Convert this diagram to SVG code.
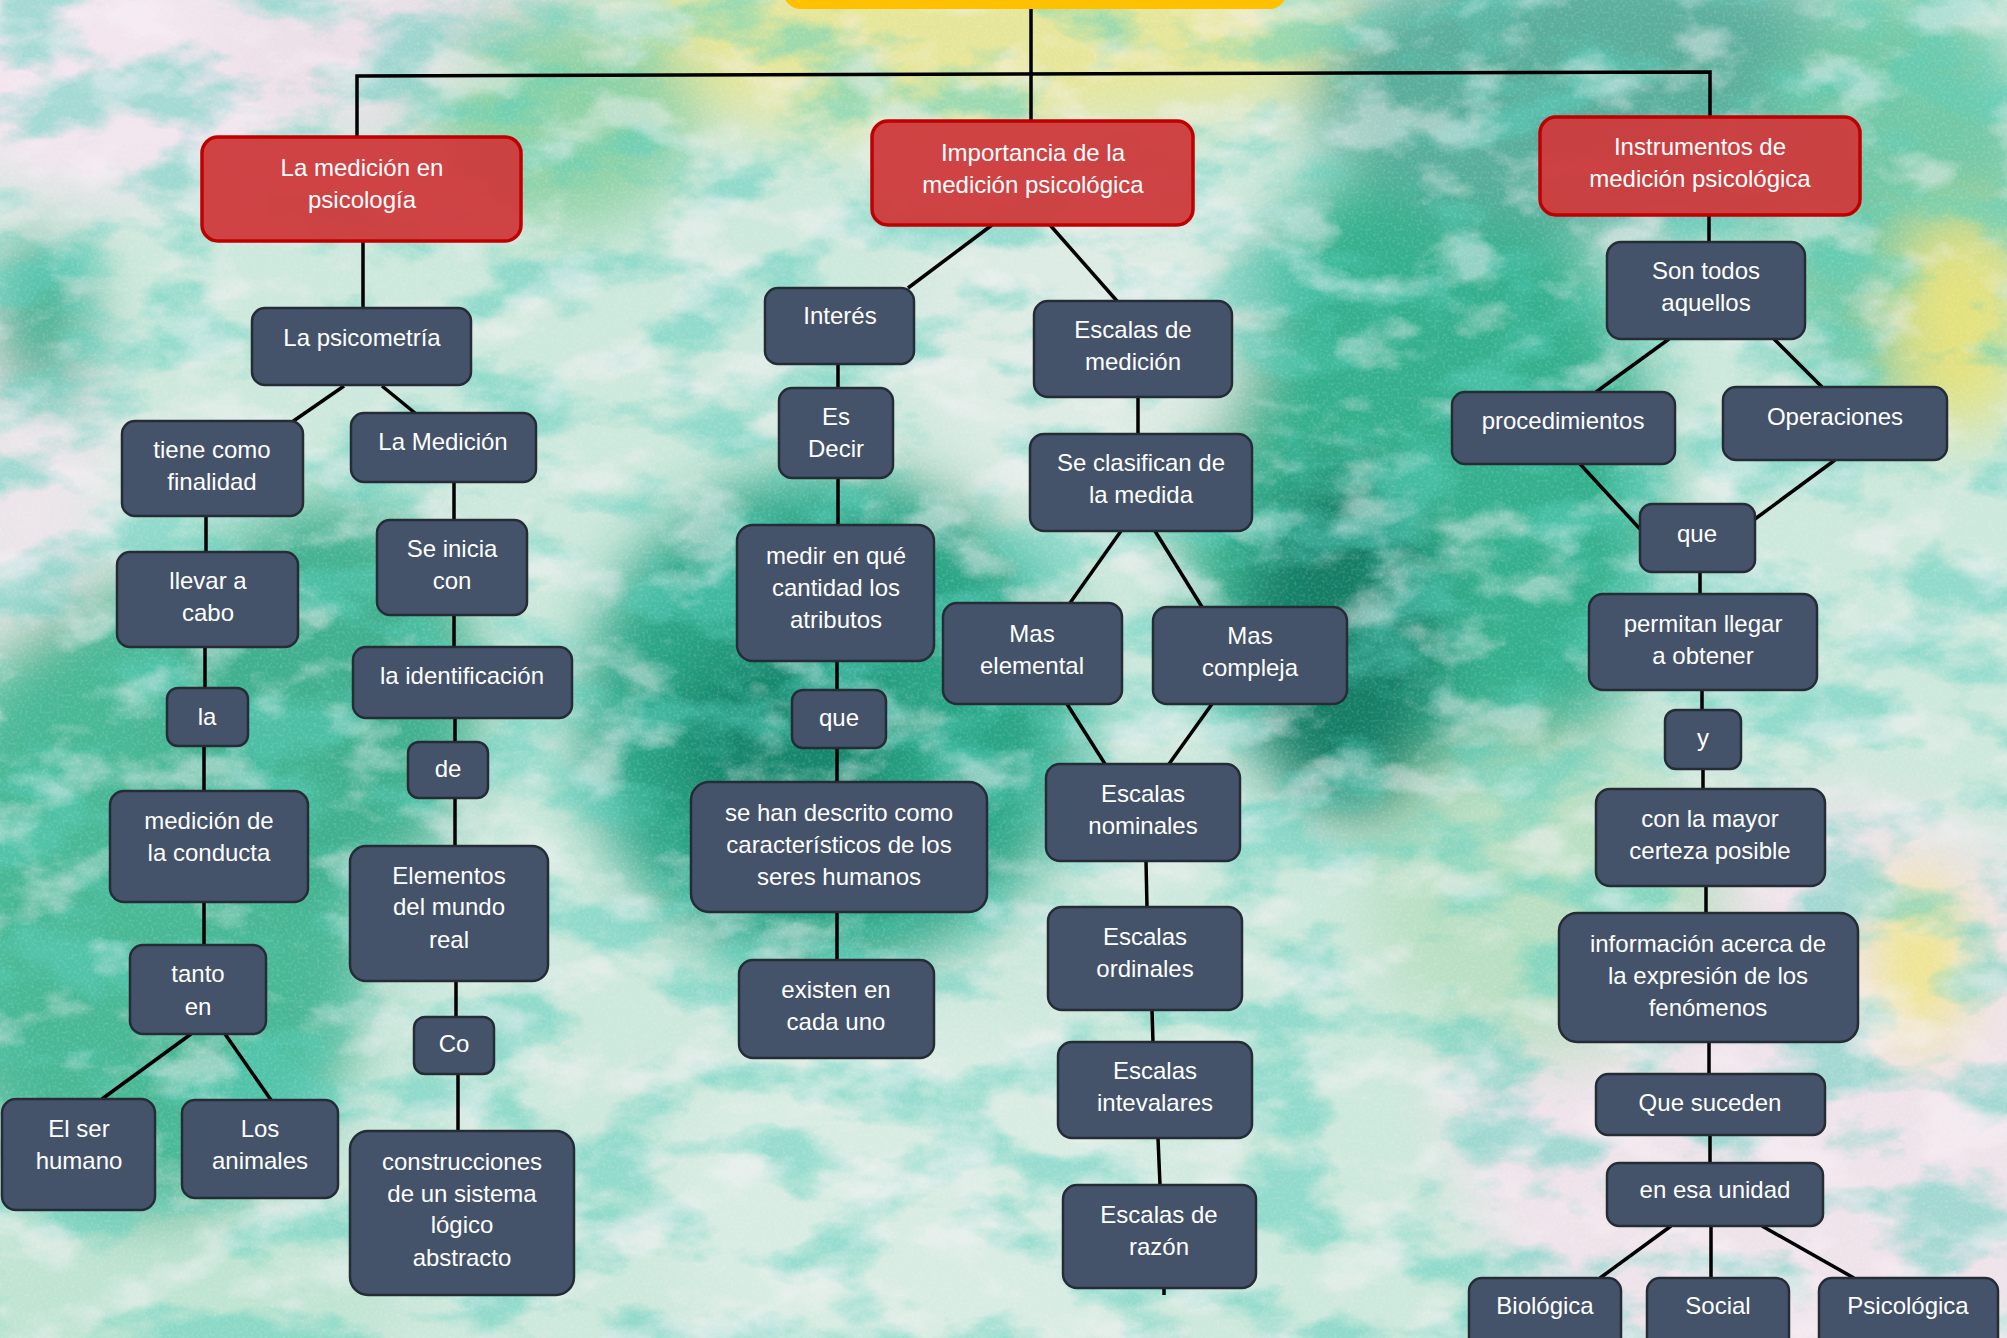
<svg xmlns="http://www.w3.org/2000/svg" width="2007" height="1338" viewBox="0 0 2007 1338">
<defs>
<style>
.n rect{fill:#44536a;stroke:#262c36;stroke-width:2.5}
.r rect{fill:#cf3a3c;fill-opacity:0.95;stroke:#c00000;stroke-width:3.5}
.n text,.r text{font-family:"Liberation Sans",Arial,sans-serif;font-size:24px;fill:#ffffff;text-anchor:middle}
#connectors path{stroke:#000;stroke-width:3.5;fill:none;stroke-linecap:butt}
</style>
<filter id="soft" x="-20%" y="-20%" width="140%" height="140%"><feGaussianBlur stdDeviation="30"/></filter>
<filter id="mottle" x="0" y="0" width="100%" height="100%">
<feTurbulence type="fractalNoise" baseFrequency="0.009 0.016" numOctaves="5" seed="11" result="n"/>
<feColorMatrix in="n" type="matrix" values="0 0 0 0 0.1  0 0 0 0 0.62  0 0 0 0 0.5  4.5 0 0 0 -2.1"/>
</filter>
<filter id="light" x="0" y="0" width="100%" height="100%">
<feTurbulence type="fractalNoise" baseFrequency="0.012 0.02" numOctaves="4" seed="23" result="n"/>
<feColorMatrix in="n" type="matrix" values="0 0 0 0 0.95  0 0 0 0 0.9  0 0 0 0 0.93  0 4 0 0 -2.0"/>
</filter>
<filter id="grain" x="0" y="0" width="100%" height="100%">
<feTurbulence type="fractalNoise" baseFrequency="0.35" numOctaves="2" seed="3" result="g"/>
<feColorMatrix in="g" type="matrix" values="0 0 0 0 1  0 0 0 0 1  0 0 0 0 1  0 0 0 1.6 -0.75"/>
</filter>
</defs>

<g id="background">
<rect x="0" y="0" width="2007" height="1338" fill="#cde8dc"/>
<g filter="url(#soft)">
<ellipse cx="110" cy="70" rx="220" ry="130" fill="#f2e5ee"/>
<ellipse cx="420" cy="50" rx="200" ry="80" fill="#ecdfe8"/>
<ellipse cx="30" cy="450" rx="80" ry="200" fill="#ece5ea"/>
<ellipse cx="960" cy="40" rx="400" ry="90" fill="#e6e69a"/>
<ellipse cx="560" cy="120" rx="140" ry="110" fill="#8fd2a6"/>
<ellipse cx="40" cy="320" rx="50" ry="90" fill="#3bb092"/>
<ellipse cx="150" cy="900" rx="230" ry="320" fill="#4ab895"/>
<ellipse cx="330" cy="700" rx="150" ry="200" fill="#3fb08e"/>
<ellipse cx="830" cy="720" rx="250" ry="250" fill="#2aa586"/>
<ellipse cx="780" cy="740" rx="110" ry="100" fill="#15866c"/>
<ellipse cx="1420" cy="500" rx="240" ry="340" fill="#34b08e"/>
<ellipse cx="1340" cy="640" rx="100" ry="170" fill="#177e66"/>
<ellipse cx="1600" cy="90" rx="290" ry="140" fill="#5aae9b"/>
<ellipse cx="1900" cy="200" rx="140" ry="220" fill="#72c8a6"/>
<ellipse cx="1960" cy="320" rx="70" ry="110" fill="#e4e27e"/>
<ellipse cx="1800" cy="1100" rx="350" ry="300" fill="#efe3ea"/>
<ellipse cx="1920" cy="960" rx="50" ry="90" fill="#eee58a"/>
<ellipse cx="920" cy="1200" rx="260" ry="180" fill="#d8ece3"/>
<ellipse cx="150" cy="1300" rx="260" ry="80" fill="#bfe4d2"/>
<ellipse cx="1080" cy="330" rx="170" ry="180" fill="#dcebe4"/>
<ellipse cx="1550" cy="900" rx="180" ry="160" fill="#b9dfc3"/>
</g>
<rect x="0" y="0" width="2007" height="1338" filter="url(#mottle)" opacity="0.5"/>
<rect x="0" y="0" width="2007" height="1338" filter="url(#light)" opacity="0.45"/>
<rect x="0" y="0" width="2007" height="1338" filter="url(#grain)" opacity="0.25"/>
</g>

<g id="connectors">
<path d="M1031,9 V121"/>
<path d="M357,137 V76 L1710,72 V117"/>
<path d="M363,241 V308"/>
<path d="M344,386 L292,422"/>
<path d="M382,386 L415,413"/>
<path d="M206,516 V552"/>
<path d="M205,647 V688"/>
<path d="M204,746 V791"/>
<path d="M204,902 V945"/>
<path d="M191,1034 L102,1099"/>
<path d="M225,1034 L271,1100"/>
<path d="M454,482 V520"/>
<path d="M454,615 V647"/>
<path d="M455,718 V742"/>
<path d="M455,798 V846"/>
<path d="M456,981 V1017"/>
<path d="M458,1074 V1131"/>
<path d="M992,225 L908,288"/>
<path d="M1050,225 L1117,301"/>
<path d="M838,364 V388"/>
<path d="M838,478 V525"/>
<path d="M837,661 V690"/>
<path d="M837,748 V782"/>
<path d="M837,912 V960"/>
<path d="M1138,397 V434"/>
<path d="M1121,531 L1070,603"/>
<path d="M1155,531 L1202,607"/>
<path d="M1067,704 L1105,764"/>
<path d="M1212,704 L1169,764"/>
<path d="M1146,861 L1147,907"/>
<path d="M1152,1010 L1153,1042"/>
<path d="M1158,1138 L1160,1185"/>
<path d="M1164,1288 V1295"/>
<path d="M1709,215 V242"/>
<path d="M1669,339 L1596,392"/>
<path d="M1774,339 L1822,387"/>
<path d="M1580,464 L1640,529"/>
<path d="M1835,460 L1755,519"/>
<path d="M1700,572 V594"/>
<path d="M1702,690 V710"/>
<path d="M1703,769 V789"/>
<path d="M1706,886 V913"/>
<path d="M1709,1042 V1074"/>
<path d="M1710,1135 V1163"/>
<path d="M1671,1226 L1600,1278"/>
<path d="M1711,1226 V1278"/>
<path d="M1762,1226 L1854,1278"/>
</g>

<g id="top"><rect x="783" y="-60" width="504" height="69" rx="18" fill="#ffc000"/></g>

<g id="n-medicion-psicologia" class="r"><rect x="202" y="137" width="319" height="104" rx="16"/><text x="362" y="176">La medición en</text><text x="362" y="208">psicología</text></g>
<g id="n-psicometria" class="n"><rect x="252" y="308" width="219" height="77" rx="13"/><text x="362" y="346">La psicometría</text></g>
<g id="n-tiene" class="n"><rect x="122" y="421" width="181" height="95" rx="13"/><text x="212" y="458">tiene como</text><text x="212" y="490">finalidad</text></g>
<g id="n-la-medicion" class="n"><rect x="351" y="413" width="185" height="69" rx="13"/><text x="443" y="450">La Medición</text></g>
<g id="n-llevar" class="n"><rect x="117" y="552" width="181" height="95" rx="13"/><text x="208" y="589">llevar a</text><text x="208" y="621">cabo</text></g>
<g id="n-la" class="n"><rect x="167" y="688" width="81" height="58" rx="11"/><text x="207" y="725">la</text></g>
<g id="n-medicion-conducta" class="n"><rect x="110" y="791" width="198" height="111" rx="14"/><text x="209" y="829">medición de</text><text x="209" y="861">la conducta</text></g>
<g id="n-tanto" class="n"><rect x="130" y="945" width="136" height="89" rx="13"/><text x="198" y="982">tanto</text><text x="198" y="1015">en</text></g>
<g id="n-ser-humano" class="n"><rect x="2" y="1099" width="153" height="111" rx="14"/><text x="79" y="1137">El ser</text><text x="79" y="1169">humano</text></g>
<g id="n-animales" class="n"><rect x="182" y="1100" width="156" height="98" rx="13"/><text x="260" y="1137">Los</text><text x="260" y="1169">animales</text></g>
<g id="n-se-inicia" class="n"><rect x="377" y="520" width="150" height="95" rx="13"/><text x="452" y="557">Se inicia</text><text x="452" y="589">con</text></g>
<g id="n-identificacion" class="n"><rect x="353" y="647" width="219" height="71" rx="13"/><text x="462" y="684">la identificación</text></g>
<g id="n-de" class="n"><rect x="408" y="742" width="80" height="56" rx="11"/><text x="448" y="777">de</text></g>
<g id="n-elementos" class="n"><rect x="350" y="846" width="198" height="135" rx="16"/><text x="449" y="884">Elementos</text><text x="449" y="915">del mundo</text><text x="449" y="948">real</text></g>
<g id="n-co" class="n"><rect x="414" y="1017" width="80" height="57" rx="11"/><text x="454" y="1052">Co</text></g>
<g id="n-construcciones" class="n"><rect x="350" y="1131" width="224" height="164" rx="18"/><text x="462" y="1170">construcciones</text><text x="462" y="1202">de un sistema</text><text x="462" y="1233">lógico</text><text x="462" y="1266">abstracto</text></g>

<g id="n-importancia" class="r"><rect x="872" y="121" width="321" height="104" rx="16"/><text x="1033" y="161">Importancia de la</text><text x="1033" y="193">medición psicológica</text></g>
<g id="n-interes" class="n"><rect x="765" y="288" width="149" height="76" rx="13"/><text x="840" y="324">Interés</text></g>
<g id="n-es-decir" class="n"><rect x="779" y="388" width="114" height="90" rx="13"/><text x="836" y="425">Es</text><text x="836" y="457">Decir</text></g>
<g id="n-medir" class="n"><rect x="737" y="525" width="197" height="136" rx="16"/><text x="836" y="564">medir en qué</text><text x="836" y="596">cantidad los</text><text x="836" y="628">atributos</text></g>
<g id="n-que1" class="n"><rect x="792" y="690" width="94" height="58" rx="11"/><text x="839" y="726">que</text></g>
<g id="n-se-han" class="n"><rect x="691" y="782" width="296" height="130" rx="18"/><text x="839" y="821">se han descrito como</text><text x="839" y="853">característicos de los</text><text x="839" y="885">seres humanos</text></g>
<g id="n-existen" class="n"><rect x="739" y="960" width="195" height="98" rx="14"/><text x="836" y="998">existen en</text><text x="836" y="1030">cada uno</text></g>
<g id="n-escalas-medicion" class="n"><rect x="1034" y="301" width="198" height="96" rx="14"/><text x="1133" y="338">Escalas de</text><text x="1133" y="370">medición</text></g>
<g id="n-se-clasifican" class="n"><rect x="1030" y="434" width="222" height="97" rx="14"/><text x="1141" y="471">Se clasifican de</text><text x="1141" y="503">la medida</text></g>
<g id="n-mas-elemental" class="n"><rect x="943" y="603" width="179" height="101" rx="14"/><text x="1032" y="642">Mas</text><text x="1032" y="674">elemental</text></g>
<g id="n-mas-compleja" class="n"><rect x="1153" y="607" width="194" height="97" rx="14"/><text x="1250" y="644">Mas</text><text x="1250" y="676">compleja</text></g>
<g id="n-nominales" class="n"><rect x="1046" y="764" width="194" height="97" rx="14"/><text x="1143" y="802">Escalas</text><text x="1143" y="834">nominales</text></g>
<g id="n-ordinales" class="n"><rect x="1048" y="907" width="194" height="103" rx="14"/><text x="1145" y="945">Escalas</text><text x="1145" y="977">ordinales</text></g>
<g id="n-intevalares" class="n"><rect x="1058" y="1042" width="194" height="96" rx="14"/><text x="1155" y="1079">Escalas</text><text x="1155" y="1111">intevalares</text></g>
<g id="n-razon" class="n"><rect x="1063" y="1185" width="193" height="103" rx="14"/><text x="1159" y="1223">Escalas de</text><text x="1159" y="1255">razón</text></g>

<g id="n-instrumentos" class="r"><rect x="1540" y="117" width="320" height="98" rx="16"/><text x="1700" y="155">Instrumentos de</text><text x="1700" y="187">medición psicológica</text></g>
<g id="n-son-todos" class="n"><rect x="1607" y="242" width="198" height="97" rx="14"/><text x="1706" y="279">Son todos</text><text x="1706" y="311">aquellos</text></g>
<g id="n-procedimientos" class="n"><rect x="1452" y="392" width="223" height="72" rx="13"/><text x="1563" y="429">procedimientos</text></g>
<g id="n-operaciones" class="n"><rect x="1723" y="387" width="224" height="73" rx="13"/><text x="1835" y="425">Operaciones</text></g>
<g id="n-que2" class="n"><rect x="1640" y="504" width="115" height="68" rx="12"/><text x="1697" y="542">que</text></g>
<g id="n-permitan" class="n"><rect x="1589" y="594" width="228" height="96" rx="14"/><text x="1703" y="632">permitan llegar</text><text x="1703" y="664">a obtener</text></g>
<g id="n-y" class="n"><rect x="1665" y="710" width="76" height="59" rx="11"/><text x="1703" y="746">y</text></g>
<g id="n-con-la-mayor" class="n"><rect x="1596" y="789" width="229" height="97" rx="14"/><text x="1710" y="827">con la mayor</text><text x="1710" y="859">certeza posible</text></g>
<g id="n-informacion" class="n"><rect x="1559" y="913" width="299" height="129" rx="18"/><text x="1708" y="952">información acerca de</text><text x="1708" y="984">la expresión de los</text><text x="1708" y="1016">fenómenos</text></g>
<g id="n-que-suceden" class="n"><rect x="1596" y="1074" width="229" height="61" rx="12"/><text x="1710" y="1111">Que suceden</text></g>
<g id="n-en-esa-unidad" class="n"><rect x="1607" y="1163" width="216" height="63" rx="12"/><text x="1715" y="1198">en esa unidad</text></g>
<g id="n-biologica" class="n"><rect x="1469" y="1278" width="152" height="90" rx="13"/><text x="1545" y="1314">Biológica</text></g>
<g id="n-social" class="n"><rect x="1647" y="1278" width="142" height="90" rx="13"/><text x="1718" y="1314">Social</text></g>
<g id="n-psicologica" class="n"><rect x="1819" y="1278" width="179" height="90" rx="13"/><text x="1908" y="1314">Psicológica</text></g>
</svg>
